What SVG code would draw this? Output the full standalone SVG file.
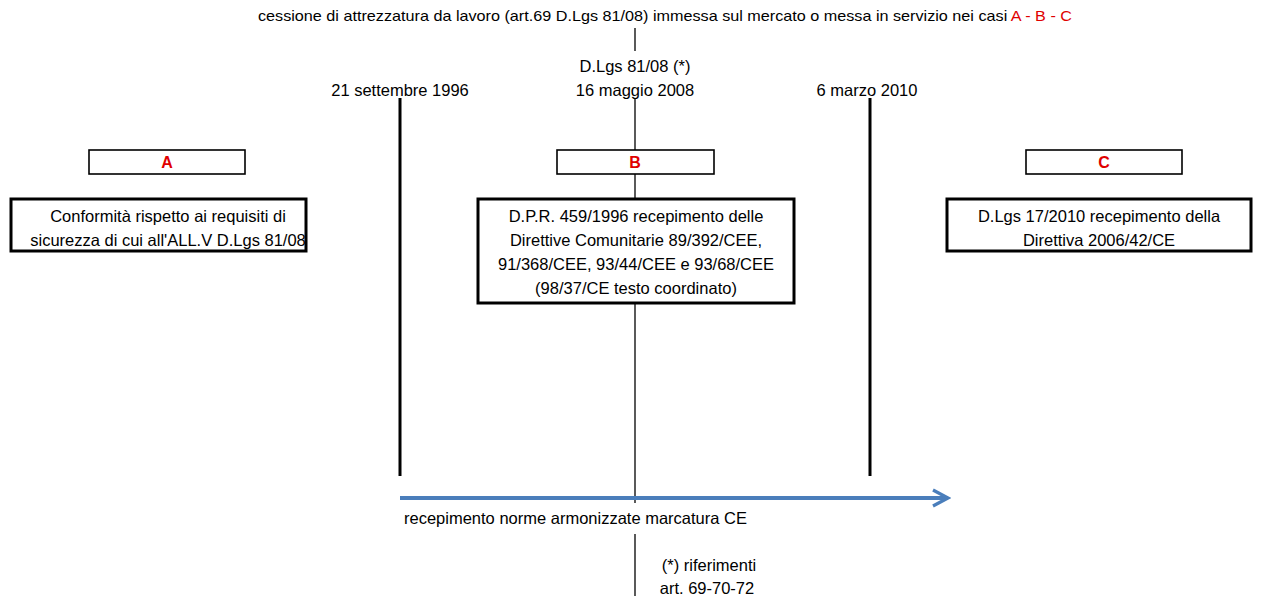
<svg xmlns="http://www.w3.org/2000/svg" width="1261" height="596" viewBox="0 0 1261 596">
<style>
text{font-family:"Liberation Sans",Arial,sans-serif;font-size:16.5px;fill:#000}
.c{text-anchor:middle}
.red{fill:#e00000}
.lbl{fill:#e00000;font-weight:bold;text-anchor:middle;font-size:16px}
.sbox{fill:#fff;stroke:#000;stroke-width:1.6}
.bbox{fill:#fff;stroke:#000;stroke-width:3}
.thin{stroke:#000;stroke-width:1.3;fill:none}
.thick{stroke:#000;stroke-width:3;fill:none}
</style>
<defs>
<marker id="ah" viewBox="0 0 10 10" refX="8.5" refY="5" markerWidth="5" markerHeight="5" orient="auto" markerUnits="strokeWidth">
<path d="M1,1 L8.5,5 L1,9" fill="none" stroke="#4a7ebb" stroke-width="1.6"/>
</marker>
</defs>
<g id="connectors">
<line class="thin" x1="635" y1="28" x2="635" y2="51"/>
<line class="thin" x1="635" y1="99" x2="635" y2="503"/>
<line class="thin" x1="635" y1="534" x2="635" y2="596"/>
<line class="thick" x1="400" y1="98" x2="400" y2="476"/>
<line class="thick" x1="870" y1="98" x2="870" y2="476"/>
<line x1="400" y1="498" x2="948" y2="498" stroke="#4a7ebb" stroke-width="4" marker-end="url(#ah)"/>
</g>
<g id="title">
<text x="258" y="21" textLength="814" lengthAdjust="spacingAndGlyphs" style="font-size:15px">cessione di attrezzatura da lavoro (art.69 D.Lgs 81/08) immessa sul mercato o messa in servizio nei casi <tspan class="red">A - B - C</tspan></text>
</g>
<g id="date-2008">
<text class="c" x="635" y="72">D.Lgs 81/08 (*)</text>
<text class="c" x="635" y="96">16 maggio 2008</text>
</g>
<g id="date-1996"><text class="c" x="400" y="96">21 settembre 1996</text></g>
<g id="date-2010"><text class="c" x="867" y="96">6 marzo 2010</text></g>
<g id="A">
<rect class="sbox" x="89" y="150" width="156" height="24"/>
<text class="lbl" x="167" y="168">A</text>
</g>
<g id="B">
<rect class="sbox" x="557" y="150" width="157" height="24"/>
<text class="lbl" x="635" y="168">B</text>
</g>
<g id="C">
<rect class="sbox" x="1026" y="150" width="156" height="24"/>
<text class="lbl" x="1104" y="168">C</text>
</g>
<g id="box-A">
<rect class="bbox" x="11" y="199" width="295" height="52"/>
<text class="c" x="168" y="222">Conformità rispetto ai requisiti di</text>
<text class="c" x="168" y="246">sicurezza di cui all'ALL.V D.Lgs 81/08</text>
</g>
<g id="box-B">
<rect class="bbox" x="478" y="199" width="316" height="104"/>
<text class="c" x="636" y="222">D.P.R. 459/1996 recepimento delle</text>
<text class="c" x="636" y="246">Direttive Comunitarie 89/392/CEE,</text>
<text class="c" x="636" y="270">91/368/CEE, 93/44/CEE e 93/68/CEE</text>
<text class="c" x="636" y="294">(98/37/CE testo coordinato)</text>
</g>
<g id="box-C">
<rect class="bbox" x="947" y="199" width="304" height="52"/>
<text class="c" x="1099" y="222">D.Lgs 17/2010 recepimento della</text>
<text class="c" x="1099" y="246">Direttiva 2006/42/CE</text>
</g>
<g id="arrow-label"><text x="404" y="524">recepimento norme armonizzate marcatura CE</text></g>
<g id="note">
<text class="c" x="709" y="571">(*) riferimenti</text>
<text class="c" x="707" y="594">art.  69-70-72</text>
</g>
</svg>
